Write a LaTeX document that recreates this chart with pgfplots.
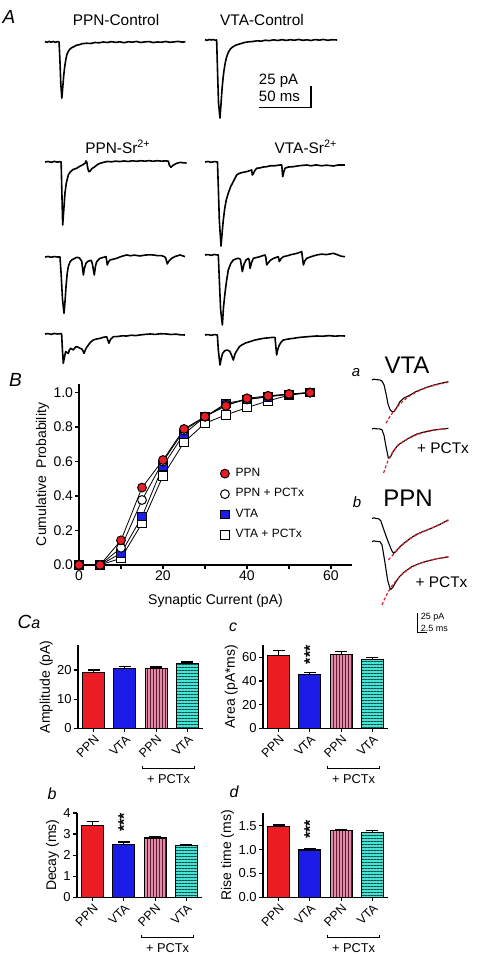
\documentclass[border=0pt]{standalone}
\usepackage{fontspec}
\setmainfont{Liberation Sans}
\setsansfont{Liberation Sans}
\usepackage{pgfplots}
\pgfplotsset{compat=1.18}
\usetikzlibrary{patterns.meta}

\definecolor{ppnred}{RGB}{236,28,36}
\definecolor{vtablue}{RGB}{28,28,232}
\definecolor{pinkf}{RGB}{222,140,168}
\definecolor{pinkl}{RGB}{100,25,50}
\definecolor{cyanf}{RGB}{70,228,212}
\definecolor{cyanl}{RGB}{20,70,70}
\definecolor{fitred}{RGB}{220,30,40}

\pgfplotsset{
  every axis/.append style={/pgf/number format/assume math mode=true},
  traceA/.style={hide axis, anchor=south west, x=0.52pt, y=0.42pt, xmin=0, xmax=140, ymin=-120, ymax=10, clip=false},
  traceB/.style={hide axis, anchor=south west, x=2pt, y=0.4pt, xmin=0, xmax=20, ymin=-120, ymax=10, clip=false},
  trace/.style={black, line width=0.8pt, line join=round, no marks},
  strace/.style={black, line width=0.55pt, line join=round, no marks},
  fit/.style={fitred, line width=0.6pt, dash pattern=on 1.5pt off 1pt, no marks},
  barax/.style={anchor=south west, scale only axis, width=62.5pt, xmin=0.5, xmax=4.5, ymin=0,
    axis x line=bottom, axis y line=left, axis line style={-, line width=0.6pt},
    xtick={1,2,3,4}, xticklabels={PPN,VTA,PPN,VTA},
    x tick label style={rotate=45, anchor=north east, inner sep=0.5pt, font=\fontsize{6.2}{7}\selectfont},
    y tick label style={font=\fontsize{6.5}{7}\selectfont, inner sep=1pt},
    tick align=outside, major tick length=2pt, tick style={black, line width=0.6pt},
    ylabel style={font=\fontsize{7}{8}\selectfont, inner sep=1pt},
    clip=false},
  mybar/.style={ybar, bar width=11pt, bar shift=0pt, draw=black, line width=0.6pt,
    error bars/y dir=plus, error bars/y explicit,
    error bars/error mark options={rotate=90, mark size=3pt, line width=0.6pt, black},
    error bars/error bar style={line width=0.6pt, black}},
}

\newcommand{\bracket}{%
  \draw[line width=0.6pt] (rel axis cs:0.515,-0.445) -- (rel axis cs:0.515,-0.48) -- (rel axis cs:0.935,-0.48) -- (rel axis cs:0.935,-0.445);
  \node[font=\fontsize{6.4}{7}\selectfont, inner sep=0pt] at (rel axis cs:0.725,-0.605) {+ PCTx};}

\begin{document}
\begin{tikzpicture}
\useasboundingbox (0pt,0pt) rectangle (239pt,478pt);

% ---------- panel labels and titles ----------
\node[font=\fontsize{9.5}{10}\selectfont\itshape] at (4.5pt,469.5pt) {A};
\node[font=\fontsize{7.7}{9}\selectfont] at (58pt,468pt) {PPN-Control};
\node[font=\fontsize{7.7}{9}\selectfont] at (131pt,468pt) {VTA-Control};
\node[font=\fontsize{7.7}{9}\selectfont] at (59pt,404.5pt) {PPN-Sr\textsuperscript{2+}};
\node[font=\fontsize{7.7}{9}\selectfont] at (153pt,404.5pt) {VTA-Sr\textsuperscript{2+}};
\node[font=\fontsize{9.5}{10}\selectfont\itshape] at (7.75pt,288pt) {B};
\node[font=\fontsize{7.5}{8}\selectfont\itshape] at (178pt,291.5pt) {a};
\node[font=\fontsize{12}{13}\selectfont] at (203.5pt,295.5pt) {VTA};
\node[font=\fontsize{7.7}{9}\selectfont] at (221.5pt,254pt) {+ PCTx};
\node[font=\fontsize{7.5}{8}\selectfont\itshape] at (178.5pt,227pt) {b};
\node[font=\fontsize{12}{13}\selectfont] at (204pt,229pt) {PPN};
\node[font=\fontsize{7.7}{9}\selectfont] at (220.75pt,187pt) {+ PCTx};
\node[font=\itshape] at (14.5pt,167pt) {{\fontsize{9.5}{10}\selectfont C}{\fontsize{8}{9}\selectfont a}};
\node[font=\fontsize{8}{9}\selectfont\itshape] at (116.5pt,164.5pt) {c};
\node[font=\fontsize{8}{9}\selectfont\itshape] at (26pt,81pt) {b};
\node[font=\fontsize{8}{9}\selectfont\itshape] at (117pt,82pt) {d};

% ---------- Panel A traces (ms, pA) ----------
\begin{axis}[traceA, at={(22.5pt,406.6pt)}]
\addplot[trace] coordinates {(0,0.5) (2,-0.5) (4,0.8) (6,-0.3) (8,0.6) (10,-0.4) (12,0.5) (13.5,0) (14.3,-20) (15.2,-50) (16.2,-67) (17,-55) (18,-40) (19,-29) (20,-21) (21,-15) (22.5,-11) (24,-8.5) (26,-6.5) (28,-5.5) (30,-4) (33,-3.2) (36,-2) (40,-1.5) (44,-1.8) (48,-0.6) (52,-1) (56,0) (60,-0.6) (64,0.4) (68,-0.5) (72,0.2) (76,-0.9) (80,0.3) (84,-0.2) (88,0.6) (92,-0.6) (96,0.1) (100,0.5) (104,-0.7) (108,0) (112,-0.3) (116,0.6) (120,-0.4) (124,0.1) (128,0.7) (132,-0.2) (135,0.3)};
\end{axis}

\begin{axis}[traceA, at={(102.5pt,407.6pt)}]
\addplot[trace] coordinates {(0,0.3) (2,-0.4) (4,0.6) (6,0) (8,0.5) (10,-0.3) (11.2,0) (12,-35) (13,-75) (14.4,-93) (15.4,-76) (16.4,-58) (17.4,-45) (18.4,-35) (19.5,-27) (20.8,-20) (22.5,-14.5) (24.5,-10.5) (27,-8) (30,-6) (34,-4.5) (38,-3) (42,-2.2) (46,-1.8) (50,-1) (54,-1.4) (58,-0.3) (62,-0.8) (66,0.2) (70,-0.6) (74,0.4) (78,-0.5) (82,0.3) (86,-0.3) (90,0.6) (94,-0.4) (98,0.2) (102,-0.6) (106,0.5) (110,-0.2) (114,0.6) (118,-0.4) (122,0.3) (127,0)};
\addplot[black, line width=0.6pt, no marks] coordinates {(52,-80) (102,-80) (102,-55)};
\node[anchor=west, inner sep=0pt, font=\fontsize{7.5}{8}\selectfont] at (axis cs:51.5,-48.8) {25 pA};
\node[anchor=west, inner sep=0pt, font=\fontsize{7.5}{8}\selectfont] at (axis cs:51.5,-66.7) {50 ms};
\end{axis}

\begin{axis}[traceA, at={(22.5pt,346.6pt)}]
\addplot[trace] coordinates {(0,0) (3,0.6) (6,-0.4) (9,0.7) (12,-0.2) (14,0.5) (15.5,0) (16.2,-35) (17,-75) (18,-58) (19.2,-37) (20.5,-25) (22.4,-15.5) (24.5,-11.5) (27,-9) (30.4,-7.5) (33,-5.5) (36,-3.5) (38.5,-1.6) (39.4,1.2) (40.2,0) (41.2,-8) (42.2,-11.5) (43.3,-11) (45,-8) (48,-5.6) (50.5,-3) (52.9,-1.6) (56,-0.5) (60,0.6) (64,0.2) (68,1) (72,0.5) (76,1.2) (80,0.6) (84,1.4) (88,0.8) (92,1.5) (96,1) (100,1.6) (104,0.9) (108,1.5) (112,1) (116,1.3) (118.6,1) (119.6,-4) (121,-6.3) (123,-4) (126.6,-1.6) (130,-0.5) (133,-1) (136.2,-1.2)};
\end{axis}

\begin{axis}[traceA, at={(102.5pt,346.6pt)}]
\addplot[trace] coordinates {(0,0) (3,0.6) (6,-0.4) (9,0.5) (12,0) (12.8,-30) (13.8,-70) (15.4,-100) (16.5,-84) (17.6,-69) (19,-55) (20.5,-45) (22.4,-37) (24.8,-29) (27.2,-23.4) (30.4,-15.5) (33,-13.5) (36,-12.5) (40.1,-11.5) (44.9,-9.5) (45.5,-15.5) (46.5,-14) (48,-10) (49.7,-7.5) (53,-7) (56,-6) (59.3,-5.6) (63,-4.5) (67,-4.5) (72,-3.6) (73.8,-3.5) (74.7,-17.5) (76,-11) (76.9,-7.5) (80,-6) (84.9,-5.6) (90,-4.5) (97.8,-3.6) (102,-4.5) (107,-3.5) (112,-4.5) (117,-3.8) (123.4,-4.8) (128,-3.6) (134.6,-3.6)};
\end{axis}

\begin{axis}[traceA, at={(22.5pt,299.1pt)}]
\addplot[trace] coordinates {(0,0) (3,0.6) (6,-0.3) (9,0.5) (12,0) (14.4,0) (15.5,-20) (16.8,-50) (18.3,-67) (19.3,-52) (20.2,-35.4) (21.3,-20) (22.4,-11.5) (24,-6) (25.6,-3.6) (28,-2) (30.4,-0.4) (33,-1) (35.3,-5) (36.9,-21.4) (38,-13) (39.4,-7.5) (41.5,-5) (44.5,-4) (45.5,-8) (47.4,-21.4) (48.5,-11) (49.7,-5.6) (52.9,-1.6) (56,-0.5) (58.7,0.4) (59.9,-9.5) (61,-6) (62.5,-3.6) (66,-2.5) (68.8,-1.6) (72,0) (75,1.2) (78.5,2.4) (82,1.5) (86,2.2) (91.3,1.2) (95,2) (99,2.6) (104,2.4) (108,1.6) (112,1.6) (114.7,0.4) (116,-1) (117.6,-8.3) (119,-5) (121.8,-1.6) (125,0.5) (129.8,2.4) (132,1.5) (134.6,0.4)};
\end{axis}

\begin{axis}[traceA, at={(102.5pt,300.1pt)}]
\addplot[trace] coordinates {(0,0) (3,0.5) (6,-0.4) (9,0.6) (12,0) (12.8,0) (13.8,-30) (15,-65) (16.7,-83.3) (17.8,-62) (19.2,-45.6) (20.8,-30) (22.4,-17.9) (24.8,-10) (27.2,-6) (30,-4.5) (32.1,-4) (34,-5) (35.9,-19.8) (37.5,-11) (39.4,-6) (41.7,-4) (42.5,-6) (43.3,-15.9) (44.8,-9) (46.5,-4) (49.5,-3) (52.9,-2) (55,-1) (57.7,0) (58.5,-3) (59.3,-11.9) (61,-9) (63.1,-6) (66,-4) (70.5,-2) (71.5,-7.9) (73,-4.5) (75.3,-2) (79,-1) (83,0.5) (87,1.5) (91,3) (93,4) (94.6,-11.9) (96,-7) (97.8,-4) (102,-2) (107.4,0) (112,1) (117,0.5) (123.4,2) (128,0) (131,-1.5) (134.6,-2)};
\end{axis}

\begin{axis}[traceA, at={(22.5pt,260.6pt)}]
\addplot[trace] coordinates {(0,0) (3,0.5) (6,-0.4) (9,0.6) (12,0) (15,0.4) (16,0) (16.8,-20) (17.6,-34.9) (18.8,-27) (19.9,-21) (21,-22) (22.4,-23) (23.5,-19) (24.7,-17) (26,-18) (27.2,-19) (28.5,-17) (29.8,-15) (31.5,-15.5) (33.7,-17) (35.5,-18) (36.5,-20) (37.5,-23) (39.5,-17) (41.7,-13) (44,-9.5) (46.5,-7.1) (49.5,-6) (52.9,-5.2) (56,-4) (59.3,-3.2) (60.3,-7) (61.5,-11) (63,-6.5) (65.7,-3.2) (70,-3) (74,-2.2) (78.5,-2.4) (83,-1.5) (87,-1.9) (91.3,-1.2) (96,-0.5) (100.9,0) (106,-0.5) (111,0.3) (116.9,0) (121,-0.6) (126,-0.2) (130,-1) (134.6,-1.2)};
\end{axis}

\begin{axis}[traceA, at={(102.5pt,260.1pt)}]
\addplot[trace] coordinates {(0,0) (3,0.5) (6,-0.4) (9,0.5) (11.9,0) (12.8,-18) (14.4,-35.7) (15.6,-28) (17,-21.8) (18.8,-19) (20.8,-17.9) (22.5,-18.5) (24,-19.8) (25.5,-24) (27.2,-29.8) (29,-22) (31,-17.9) (33,-14) (35.3,-11.9) (39,-9.5) (43.3,-7.9) (48,-6) (52,-5) (56.1,-4) (60,-3.5) (64,-3) (67.3,-2.8) (68.9,-23.8) (70,-17) (71.5,-11.9) (73.5,-8) (75.3,-6) (80,-4.8) (84.9,-4) (90,-3) (95,-2.4) (101,-1.8) (107.4,-1.2) (113,-1.5) (119,-0.8) (125,-1.4) (130,-1) (134.6,-1.2)};
\end{axis}

% ---------- right-hand averaged traces with fits ----------
\begin{axis}[traceB, at={(186pt,240pt)}]
\addplot[strace] coordinates {(0,0) (0.5,1) (1,0.5) (1.5,0.3) (2,0) (2.5,-1.5) (3,-6) (3.5,-17) (4,-30) (4.5,-37) (5,-39.6) (5.5,-39.5) (6,-36) (7,-27) (8,-22.5) (9.5,-18.8) (11,-14.5) (12.5,-11.5) (13.7,-9.1) (15,-7) (16.5,-5) (18,-3.3) (19.1,-2.1)};
\addplot[fit] coordinates {(3.5,-54) (4.5,-45.5) (5.5,-38.5) (6.5,-32.5) (7.5,-27.5) (8.5,-23.3) (9.5,-19.7) (11,-15.2) (12.5,-11.8) (14,-9) (15.5,-6.8) (17,-5) (19,-2.8)};
\end{axis}

\begin{axis}[traceB, at={(186pt,215.5pt)}]
\addplot[strace] coordinates {(0,0) (0.4,0.8) (1,0.3) (2,0) (2.5,-1) (3,-8) (3.5,-22) (4.1,-36.6) (4.6,-35) (5.3,-28) (6.5,-20) (7.8,-15.9) (9.5,-10.5) (11.2,-6.3) (13,-3.8) (15.3,-1.3) (17,-0.3) (19.1,0.9)};
\addplot[fit] coordinates {(2.9,-55) (3.5,-46) (4.1,-38) (5,-30) (6,-23.5) (7,-18.5) (8,-15) (9.5,-11) (11,-7.5) (13,-4.5) (15,-2) (17,-0.5) (19,0.5)};
\end{axis}

\begin{axis}[traceB, at={(186pt,170.85pt)}]
\addplot[strace] coordinates {(0,0) (0.5,0.5) (1,-0.2) (1.6,-0.5) (2.2,-3) (2.9,-13.5) (3.5,-22) (4.1,-30) (4.9,-40) (5.4,-43.8) (6,-41) (7,-35.5) (8,-31) (9.6,-25) (11,-20.5) (12.5,-17) (13.8,-14.6) (15.5,-11) (17,-7.5) (19.1,-2)};
\addplot[fit] coordinates {(4.1,-52) (5,-47) (6,-41.5) (7,-36) (8,-31.5) (9.6,-25.3) (11,-21) (12.5,-17.3) (13.8,-14.5) (15.5,-11) (17,-7.8) (19.1,-2.5)};
\end{axis}

\begin{axis}[traceB, at={(186pt,159.15pt)}]
\addplot[strace] coordinates {(0,0) (0.4,1) (1,0.5) (2,0) (2.5,-4) (3.2,-25) (3.9,-48) (4.6,-60) (5.2,-57) (6,-50) (7,-43) (8,-38) (10,-31) (12,-27) (14,-24) (16,-21.5) (19.1,-18.8)};
\addplot[fit] coordinates {(2.5,-79) (3.2,-71) (4,-63) (5,-55) (6,-49) (7,-43.5) (8,-38.5) (10,-31.5) (12,-27) (14,-24) (16,-21.5) (19.1,-19)};
\addplot[black, line width=0.5pt, no marks] coordinates {(11.25,-89.1) (11.25,-114.1) (13.75,-114.1)};
\node[anchor=west, inner sep=0pt, font=\fontsize{4.5}{5}\selectfont] at (axis cs:12.1,-94.1) {25 pA};
\node[anchor=west, inner sep=0pt, font=\fontsize{4.5}{5}\selectfont] at (axis cs:12.1,-107.9) {2.5 ms};
\end{axis}

% ---------- Panel B: cumulative probability ----------
\begin{axis}[at={(39.5pt,195.5pt)}, anchor=south west, scale only axis, width=136.5pt, height=90.5pt,
  xmin=0, xmax=65, ymin=0, ymax=1.05,
  axis x line=bottom, axis y line=left, axis line style={-, line width=0.6pt},
  xtick={0,20,40,60}, minor xtick={10,30,50}, ytick={0,0.2,0.4,0.6,0.8,1.0},
  yticklabel style={/pgf/number format/.cd, fixed, fixed zerofill, precision=1},
  tick label style={font=\fontsize{7}{8}\selectfont, inner sep=1pt},
  tick align=outside, major tick length=1.8pt, minor tick length=1.8pt, tick style={black, line width=0.6pt},
  xlabel={Synaptic Current (pA)}, ylabel={Cumulative\ \ Probability},
  label style={font=\fontsize{7}{8}\selectfont},
  xlabel style={inner sep=1pt, yshift=-4.5pt}, ylabel style={inner sep=1pt},
  clip=false,
  legend style={at={(axis cs:33.6,0.572)}, anchor=north west, draw=none, fill=none,
    font=\fontsize{6}{7}\selectfont, row sep=3.4pt, column sep=2.6pt, inner sep=0pt,
    nodes={inner sep=0.6pt}},
  legend cell align=left,
  legend image code/.code={\draw[#1] plot coordinates {(0pt,0pt)};},
]
\addplot[forget plot, black, line width=0.4pt, mark=square*, mark size=2.1pt, mark options={fill=white, draw=black, line width=0.5pt, solid}]
  coordinates {(0,0) (5,0) (10,0.039) (15,0.242) (20,0.517) (25,0.712) (30,0.822) (35,0.871) (40,0.913) (45,0.952) (50,0.985) (55,1.0)};
\addplot[forget plot, black, line width=0.4pt, mark=square*, mark size=2.1pt, mark options={fill=vtablue, draw=black, line width=0.5pt, solid}]
  coordinates {(0,0) (5,0) (10,0.068) (15,0.28) (20,0.575) (25,0.76) (30,0.86) (35,0.938) (40,0.96) (45,0.975) (50,0.99) (55,1.0)};
\addplot[forget plot, black, line width=0.4pt, mark=*, mark size=2.2pt, mark options={fill=white, draw=black, line width=0.5pt, solid}]
  coordinates {(0,0) (5,0) (10,0.10) (15,0.377) (20,0.60) (25,0.78) (30,0.86) (35,0.93) (40,0.96) (45,0.98) (50,0.99) (55,1.0)};
\addplot[forget plot, black, line width=0.4pt, mark=*, mark size=2.2pt, mark options={fill=ppnred, draw=black, line width=0.5pt, solid}]
  coordinates {(0,0) (5,0) (10,0.143) (15,0.449) (20,0.609) (25,0.789) (30,0.861) (35,0.923) (40,0.967) (45,0.981) (50,0.992) (55,1.0)};
\addlegendimage{only marks, mark=*, mark size=2.2pt, mark options={fill=ppnred, draw=black, line width=0.5pt}}
\addlegendentry{PPN}
\addlegendimage{only marks, mark=*, mark size=2.2pt, mark options={fill=white, draw=black, line width=0.5pt}}
\addlegendentry{PPN + PCTx}
\addlegendimage{only marks, mark=square*, mark size=2.1pt, mark options={fill=vtablue, draw=black, line width=0.5pt}}
\addlegendentry{VTA}
\addlegendimage{only marks, mark=square*, mark size=2.1pt, mark options={fill=white, draw=black, line width=0.5pt}}
\addlegendentry{VTA + PCTx}
\end{axis}

% ---------- Panel C bar charts ----------
\begin{axis}[barax, at={(39pt,113.75pt)}, height=41.75pt, ymax=28.5, ytick={0,10,20}, ylabel={Amplitude (pA)}]
\addplot[mybar, fill=ppnred] coordinates {(1,19.2) +- (0,0.8)};
\addplot[mybar, fill=vtablue] coordinates {(2,20.6) +- (0,0.5)};
\addplot[mybar, fill=pinkf, postaction={pattern={Lines[angle=90,distance=1.5pt,line width=0.5pt]}, pattern color=pinkl}] coordinates {(3,20.5) +- (0,0.5)};
\addplot[mybar, fill=cyanf, postaction={pattern={Lines[angle=0,distance=1.5pt,line width=0.5pt]}, pattern color=cyanl}] coordinates {(4,22.2) +- (0,0.5)};
\bracket
\end{axis}

\begin{axis}[barax, at={(131.5pt,113.75pt)}, height=41.75pt, ymax=70.3, ytick={0,20,40,60}, ylabel={Area (pA*ms)}]
\addplot[mybar, fill=ppnred] coordinates {(1,61.4) +- (0,4)};
\addplot[mybar, fill=vtablue] coordinates {(2,45.2) +- (0,2.2)};
\addplot[mybar, fill=pinkf, postaction={pattern={Lines[angle=90,distance=1.5pt,line width=0.5pt]}, pattern color=pinkl}] coordinates {(3,62.0) +- (0,3)};
\addplot[mybar, fill=cyanf, postaction={pattern={Lines[angle=0,distance=1.5pt,line width=0.5pt]}, pattern color=cyanl}] coordinates {(4,58.1) +- (0,2)};
\node[rotate=90, anchor=west, inner sep=0pt, xshift=1.5pt, font=\fontsize{8}{8}\selectfont\bfseries] at (axis cs:2,51.3) {***};
\bracket
\end{axis}

\begin{axis}[barax, at={(38.5pt,29.35pt)}, height=42.15pt, ymax=4, ytick={0,1,2,3,4}, ylabel={Decay (ms)}]
\addplot[mybar, fill=ppnred] coordinates {(1,3.41) +- (0,0.19)};
\addplot[mybar, fill=vtablue] coordinates {(2,2.52) +- (0,0.10)};
\addplot[mybar, fill=pinkf, postaction={pattern={Lines[angle=90,distance=1.5pt,line width=0.5pt]}, pattern color=pinkl}] coordinates {(3,2.81) +- (0,0.08)};
\addplot[mybar, fill=cyanf, postaction={pattern={Lines[angle=0,distance=1.5pt,line width=0.5pt]}, pattern color=cyanl}] coordinates {(4,2.46) +- (0,0.06)};
\node[rotate=90, anchor=west, inner sep=0pt, xshift=1.5pt, font=\fontsize{8}{8}\selectfont\bfseries] at (axis cs:2,2.95) {***};
\bracket
\end{axis}

\begin{axis}[barax, at={(131.5pt,29.35pt)}, height=42.15pt, ymax=1.77, ytick={0,0.5,1,1.5},
  yticklabel style={/pgf/number format/.cd, fixed, fixed zerofill, precision=1}, ylabel={Rise time (ms)}]
\addplot[mybar, fill=ppnred] coordinates {(1,1.486) +- (0,0.03)};
\addplot[mybar, fill=vtablue] coordinates {(2,0.995) +- (0,0.02)};
\addplot[mybar, fill=pinkf, postaction={pattern={Lines[angle=90,distance=1.5pt,line width=0.5pt]}, pattern color=pinkl}] coordinates {(3,1.395) +- (0,0.025)};
\addplot[mybar, fill=cyanf, postaction={pattern={Lines[angle=0,distance=1.5pt,line width=0.5pt]}, pattern color=cyanl}] coordinates {(4,1.36) +- (0,0.035)};
\node[rotate=90, anchor=west, inner sep=0pt, xshift=1.5pt, font=\fontsize{8}{8}\selectfont\bfseries] at (axis cs:2,1.16) {***};
\bracket
\end{axis}

\end{tikzpicture}
\end{document}
